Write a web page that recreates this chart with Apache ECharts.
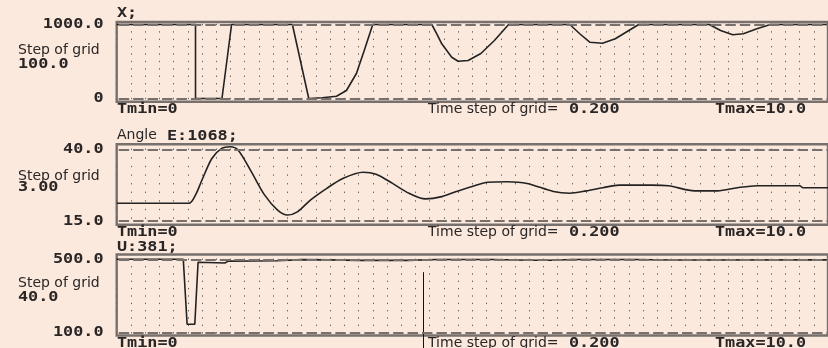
<!DOCTYPE html>
<html><head><meta charset="utf-8">
<script src="https://cdn.jsdelivr.net/npm/echarts@6/dist/echarts.min.js"></script>
<style>html,body{margin:0;padding:0;background:#fce9dd;}#c{width:828px;height:348px;}</style>
</head><body><div id="c"></div>
<script>
// ---------- data ----------
const xTime   = [0, 1.108, 1.108, 1.48, 1.615, 2.47, 2.70, 2.89, 3.09, 3.23, 3.37, 3.48, 3.60, 4.43, 4.50, 4.57, 4.71, 4.80, 4.94, 5.12, 5.31, 5.51, 6.37, 6.51, 6.65, 6.83, 7.01, 7.20, 7.34, 8.33, 8.49, 8.66, 8.81, 9.00, 9.19, 10];
const xValues = [1000, 1000, 0, 0, 1000, 1000, 0, 10, 31, 108, 338, 649, 1000, 1000, 874, 739, 558, 504, 514, 608, 784, 1000, 1000, 875, 761, 747, 807, 919, 1000, 1000, 919, 861, 875, 942, 1000, 1000];

const angleTime   = [0, 1.015, 1.108, 1.199, 1.338, 1.476, 1.593, 1.708, 1.892, 2.078, 2.262, 2.40, 2.54, 2.723, 2.954, 3.186, 3.463, 3.647, 3.878, 4.108, 4.339, 4.571, 4.80, 5.032, 5.216, 5.493, 5.77, 6.14, 6.371, 6.601, 6.832, 7.064, 7.525, 7.756, 8.124, 8.449, 8.726, 9.003, 9.603, 9.648, 10];
const angleValues = [21.2, 21.2, 24.1, 29.3, 36.8, 40.3, 40.9, 39.7, 32.2, 24.1, 18.8, 17.1, 18.2, 22.3, 26.4, 29.9, 32.0, 31.3, 28.1, 24.7, 22.7, 23.5, 25.5, 27.3, 28.5, 28.7, 28.1, 25.3, 24.7, 25.5, 26.6, 27.5, 27.5, 27.3, 25.5, 25.5, 26.6, 27.3, 27.3, 26.6, 26.6];

const uTime   = [0, 0.936, 0.99, 1.098, 1.144, 1.52, 1.57, 2.25, 2.6, 3.0, 3.4, 4.1, 4.5, 5.3, 5.8, 6.1, 6.4, 7.3, 7.8, 10];
const uValues = [500, 500, 146, 146, 484, 480, 490, 492, 498, 497, 494, 494, 499, 499, 495, 495, 499, 499, 496, 497];

const panelTitles    = ['X;', 'Angle', 'U:381;'];
const angleTitleTail = 'E:1068;';
const yRanges        = [[0, 1000], [15, 40], [100, 500]];
const yTickLabels    = [['1000.0', '0'], ['40.0', '15.0'], ['500.0', '100.0']];
const gridSteps      = [100, 3, 40];
const gridStepLabels = ['100.0', '3.00', '40.0'];
const stepCaption    = 'Step of grid';
const timeMin = 0, timeMax = 10, timeStep = 0.2;
const timeLabels     = ['Tmin=0', 'Time step of grid=', '0.200', 'Tmax=10.0'];
const cursorTime = 4.3, cursorValue = 430;

// ---------- layout / style ----------
const BG = '#fce9dd', TEXT = '#2a2626', FRAME = '#77706c', DOT = '#6a625e', LINE = '#222';
const GRID_LEFT = 116.7, GRID_WIDTH = 722.2;
const panels = [
  {frameTop: 22,    dashTop: 24.5,  dashBot: 98.5,  frameBot: 101.7, titleY: 13,    stepY: 50.5, stepValY: 64,    timeY: 109.5},
  {frameTop: 144.3, dashTop: 149.3, dashBot: 221,   frameBot: 224.7, titleY: 135.5, stepY: 176,  stepValY: 187.5, timeY: 232},
  {frameTop: 254.5, dashTop: 259.3, dashBot: 332.7, frameBot: 335.5, titleY: 247,   stepY: 283,  stepValY: 297,   timeY: 343}
];
const MONO = 'bold 14px "DejaVu Sans Mono"';
const SANS = '14px "DejaVu Sans"';
const MONO_SCALE = 1.2;
const seriesSets = [[xTime, xValues], [angleTime, angleValues], [uTime, uValues]];

const grids = [], xAxes = [], yAxes = [], series = [];
const colW = GRID_WIDTH / ((timeMax - timeMin) / timeStep);
panels.forEach((p, i) => {
  const [vMin, vMax] = yRanges[i];
  const k = (p.dashBot - p.dashTop) / (vMax - vMin);
  const axMax = vMax + (p.dashTop - p.frameTop) / k;
  const axMin = vMin - (p.frameBot - p.dashBot) / k;
  const rowSp = gridSteps[i] * k;
  const dotLen = 1.4;
  const d0 = p.dashTop - p.frameTop - dotLen / 2;
  const off = rowSp - (d0 % rowSp);
  grids.push({left: GRID_LEFT, width: GRID_WIDTH, top: p.frameTop, height: p.frameBot - p.frameTop,
    show: true, borderColor: FRAME, borderWidth: 2.4, backgroundColor: 'transparent'});
  xAxes.push({type: 'value', gridIndex: i, min: timeMin, max: timeMax, interval: timeStep,
    axisLine: {show: false}, axisTick: {show: false}, axisLabel: {show: false},
    splitLine: {show: true, lineStyle: {color: DOT, width: 1, type: [dotLen, rowSp - dotLen], dashOffset: off}}});
  yAxes.push({type: 'value', gridIndex: i, min: axMin, max: axMax,
    axisLine: {show: false}, axisTick: {show: false}, axisLabel: {show: false}, splitLine: {show: false}});
  const [ts, vs] = seriesSets[i];
  series.push({type: 'line', xAxisIndex: i, yAxisIndex: i, data: ts.map((t, j) => [t, vs[j]]),
    showSymbol: false, symbol: 'none', smooth: i === 1 ? 0.3 : false,
    lineStyle: {color: LINE, width: 1.6}, silent: true,
    markLine: {silent: true, symbol: 'none', animation: false,
      lineStyle: {color: FRAME, width: 2, type: [colW - 4, 4], dashOffset: colW - 2},
      label: {show: false},
      data: [{yAxis: vMax}, {yAxis: vMin}]}});
});

const chart = echarts.init(document.getElementById('c'), null, {width: 828, height: 348});
chart.setOption({backgroundColor: BG, animation: false, grid: grids, xAxis: xAxes, yAxis: yAxes, series: series});

function txt(x, y, text, font, align) {
  const mono = font === MONO;
  return {type: 'text', x: x, y: y, silent: true, scaleX: mono ? MONO_SCALE : 1,
    style: {text: text, font: font, fill: TEXT, align: align || 'left', verticalAlign: 'middle'}};
}
const g = [];
panels.forEach((p, i) => {
  const [vMin, vMax] = yRanges[i];
  const pTop = chart.convertToPixel({gridIndex: i}, [timeMin, vMax]);
  const pBot = chart.convertToPixel({gridIndex: i}, [timeMin, vMin]);
  g.push(txt(103.5, pTop[1], yTickLabels[i][0], MONO, 'right'));
  g.push(txt(103.5, pBot[1], yTickLabels[i][1], MONO, 'right'));
  g.push(txt(117, p.titleY, panelTitles[i], i === 1 ? SANS : MONO));
  if (i === 1) g.push(txt(167, p.titleY + 0.5, angleTitleTail, MONO));
  g.push(txt(18, p.stepY, stepCaption, SANS));
  g.push(txt(18, p.stepValY, gridStepLabels[i], MONO));
  g.push(txt(117, p.timeY, timeLabels[0], MONO));
  g.push(txt(428, p.timeY, timeLabels[1], SANS));
  g.push(txt(569, p.timeY, timeLabels[2], MONO));
  g.push(txt(715, p.timeY, timeLabels[3], MONO));
});
const cp = chart.convertToPixel({gridIndex: 2}, [cursorTime, cursorValue]);
const cx = Math.round(cp[0]) + 0.5;
g.push({type: 'line', silent: true, shape: {x1: cx, y1: cp[1], x2: cx, y2: 348}, style: {stroke: '#111', lineWidth: 1}});
chart.setOption({graphic: g});
</script></body></html>
